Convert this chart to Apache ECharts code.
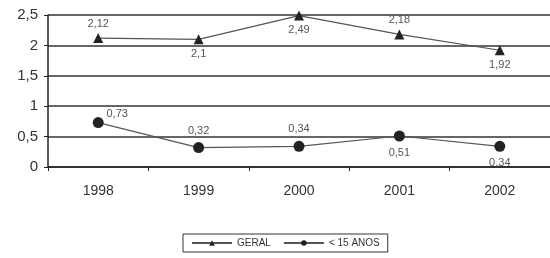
<!DOCTYPE html>
<html>
<head>
<meta charset="utf-8">
<script src="https://cdn.jsdelivr.net/npm/echarts@6/dist/echarts.min.js"></script>
<style>
  html, body { margin: 0; padding: 0; background: #fff; }
  #chart { width: 550px; height: 258px; }
</style>
</head>
<body>
<div id="chart"></div>
<script>
var years = ["1998", "1999", "2000", "2001", "2002"];
var geral = [2.12, 2.1, 2.49, 2.18, 1.92];
var menores = [0.73, 0.32, 0.34, 0.51, 0.34];
// label position for each point
var geralPos = ["top", "bottom", "bottom", "top", "bottom"];
var menoresPos = ["top", "top", "top", "bottom", "bottom"];

function fmt(v) {
  return String(v).replace(".", ",");
}

function withLabels(values, pos, offsets) {
  return values.map(function (v, i) {
    return {
      value: v,
      label: { position: pos[i], offset: offsets ? offsets[i] : [0, 0] }
    };
  });
}

var chart = echarts.init(document.getElementById("chart"));
chart.setOption({
  animation: false,
  textStyle: { fontFamily: "Liberation Sans, Arial, sans-serif" },
  grid: { left: 48, right: 0, top: 15, bottom: 91 },
  legend: {
    bottom: 6,
    left: 183,
    itemWidth: 40,
    itemHeight: 7,
    itemGap: 12,
    padding: [4, 8],
    borderColor: "#333",
    borderWidth: 1,
    textStyle: { fontSize: 10, color: "#333" },
    data: ["GERAL", "< 15 ANOS"]
  },
  xAxis: {
    type: "category",
    data: years,
    boundaryGap: true,
    axisLine: { lineStyle: { color: "#222", width: 1.5 } },
    axisTick: { show: true, length: 4, lineStyle: { color: "#222" } },
    axisLabel: { fontSize: 14, color: "#333", margin: 17 }
  },
  yAxis: {
    type: "value",
    min: 0,
    max: 2.5,
    interval: 0.5,
    axisLine: { show: true, lineStyle: { color: "#222", width: 1.5 } },
    axisTick: { show: true, length: 4, lineStyle: { color: "#222" } },
    splitLine: { lineStyle: { color: "#333", width: 1.5 } },
    axisLabel: {
      fontSize: 15,
      color: "#333",
      margin: 10,
      formatter: function (v) { return fmt(v); }
    }
  },
  series: [
    {
      name: "GERAL",
      type: "line",
      data: withLabels(geral, geralPos),
      symbol: "triangle",
      symbolSize: 10,
      itemStyle: { color: "#222" },
      lineStyle: { color: "#555", width: 1.2 },
      label: {
        show: true,
        fontSize: 11,
        color: "#555",
        distance: 4,
        formatter: function (p) { return fmt(p.value); }
      }
    },
    {
      name: "< 15 ANOS",
      type: "line",
      data: withLabels(menores, menoresPos, [[19, 8], [0, 0], [0, 0], [0, 0], [0, 0]]),
      symbol: "circle",
      symbolSize: 11,
      itemStyle: { color: "#222" },
      lineStyle: { color: "#555", width: 1.2 },
      label: {
        show: true,
        fontSize: 11,
        color: "#555",
        distance: 6,
        formatter: function (p) { return fmt(p.value); }
      }
    }
  ]
});
</script>
</body>
</html>
